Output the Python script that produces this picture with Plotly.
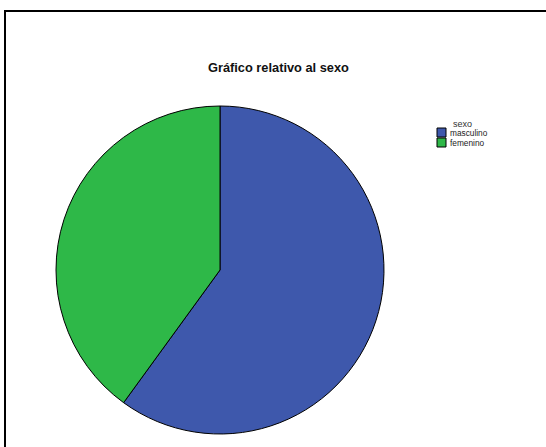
import plotly.graph_objects as go

categories = ["masculino", "femenino"]
values = [60, 40]
colors = ["#3E58AC", "#2EB848"]
legend_title = "sexo"
chart_title = "Gráfico relativo al sexo"

W, H = 546, 447
cx, cy, r = 220, 270, 164

fig = go.Figure(go.Pie(
    labels=categories,
    values=values,
    sort=False,
    direction="clockwise",
    rotation=0,
    textinfo="none",
    hoverinfo="label+percent",
    marker=dict(colors=colors, line=dict(color="black", width=1)),
    domain=dict(x=[(cx - r) / W, (cx + r) / W], y=[(H - cy - r) / H, (H - cy + r) / H]),
    showlegend=False,
))

def px(x):
    return x / W

def py(y):
    return (H - y) / H

shapes = [dict(
    type="rect", xref="paper", yref="paper",
    x0=px(5), x1=1.05, y0=-0.05, y1=py(11),
    line=dict(color="black", width=2), fillcolor="rgba(0,0,0,0)",
)]
annotations = [
    dict(text="<b>" + chart_title + "</b>", x=px(278), y=py(68),
         xref="paper", yref="paper", showarrow=False,
         font=dict(size=12.8, color="#111"), xanchor="center", yanchor="middle"),
    dict(text=legend_title, x=px(462), y=py(124),
         xref="paper", yref="paper", showarrow=False,
         font=dict(size=9, color="#333"), xanchor="center", yanchor="middle"),
]
for i, (cat, col) in enumerate(zip(categories, colors)):
    top = 128 + i * 10
    shapes.append(dict(
        type="rect", xref="paper", yref="paper",
        x0=px(437), x1=px(446), y0=py(top + 9), y1=py(top),
        line=dict(color="black", width=1), fillcolor=col,
    ))
    annotations.append(dict(
        text=cat, x=px(448), y=py(top + 4.5),
        xref="paper", yref="paper", showarrow=False,
        font=dict(size=8.3, color="#222"), xanchor="left", yanchor="middle",
    ))

fig.update_layout(
    width=W, height=H,
    margin=dict(l=0, r=0, t=0, b=0),
    paper_bgcolor="white",
    plot_bgcolor="white",
    font=dict(family="Liberation Sans, Arial, sans-serif", color="black"),
    shapes=shapes,
    annotations=annotations,
)

fig.write_html("out.html")
